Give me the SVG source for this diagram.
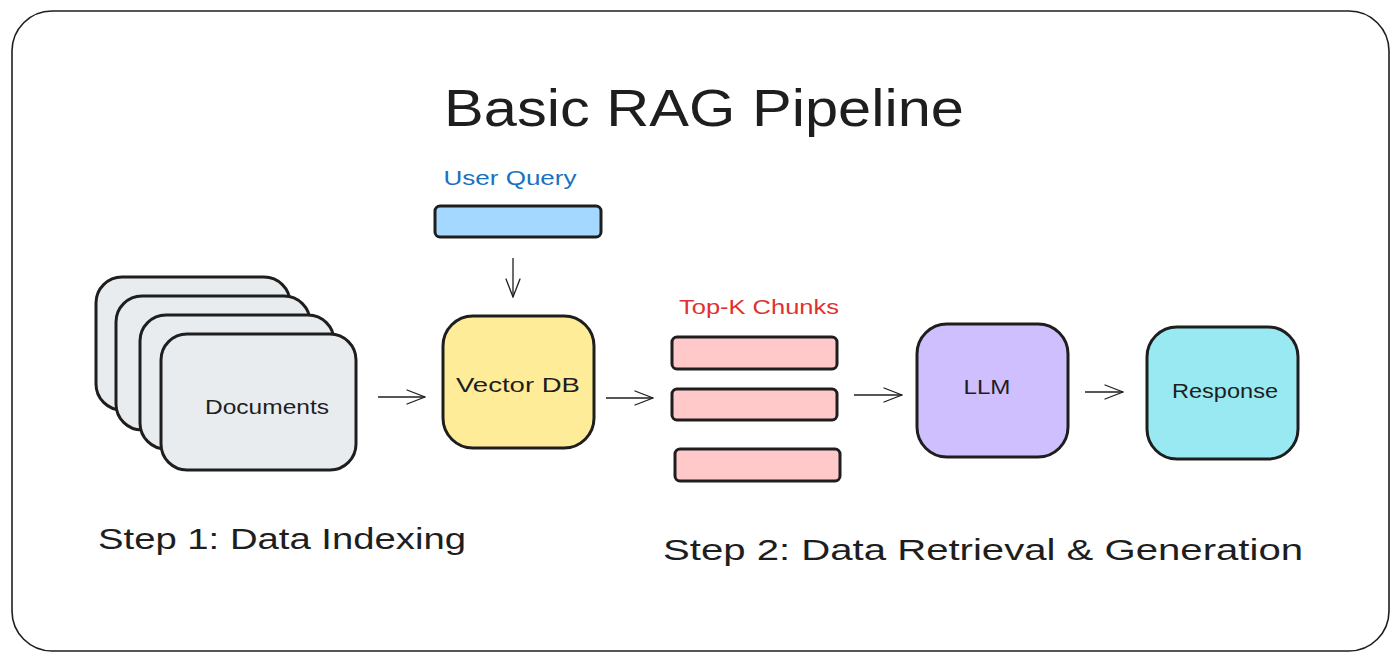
<svg xmlns="http://www.w3.org/2000/svg" width="1400" height="662" viewBox="0 0 1400 662">
  <defs>
    <marker id="arr" viewBox="0 0 20 20" refX="19" refY="10" markerWidth="20" markerHeight="20" markerUnits="userSpaceOnUse" orient="auto">
      <path d="M1,3 L19,10 L1,17" fill="none" stroke="#1e1e1e" stroke-width="1.3" stroke-linecap="round"/>
    </marker>
  </defs>
  <style>
    .t { font-family: "Liberation Sans", Arial, sans-serif; fill: #1e1e1e; }
    .box { stroke: #1e1e1e; stroke-width: 3; }
    .conn { stroke: #1e1e1e; stroke-width: 1.3; fill: none; marker-end: url(#arr); }
  </style>
  <rect x="0" y="0" width="1400" height="662" fill="#ffffff"/>
  <rect x="12" y="11" width="1377" height="640" rx="40" ry="40" fill="#ffffff" stroke="#1e1e1e" stroke-width="1.6"/>

  <g id="title">
    <text class="t" x="704" y="126" text-anchor="middle" font-size="52" textLength="520" lengthAdjust="spacingAndGlyphs">Basic RAG Pipeline</text>
  </g>

  <g id="documents">
    <rect class="box" x="96" y="277" width="194" height="133" rx="26" fill="#e9ecef"/>
    <rect class="box" x="116" y="296" width="194" height="134" rx="26" fill="#e9ecef"/>
    <rect class="box" x="140" y="315" width="194" height="134" rx="26" fill="#e9ecef"/>
    <rect class="box" x="161" y="334" width="195" height="136" rx="26" fill="#e9ecef"/>
    <text class="t" x="267" y="414" text-anchor="middle" font-size="20" textLength="124" lengthAdjust="spacingAndGlyphs">Documents</text>
  </g>

  <g id="user-query">
    <text class="t" x="510" y="185" text-anchor="middle" font-size="20" fill="#1971c2" style="fill:#1971c2" textLength="133" lengthAdjust="spacingAndGlyphs">User Query</text>
    <rect class="box" x="435" y="206" width="166" height="31" rx="5" fill="#a5d8ff"/>
  </g>

  <g id="vector-db">
    <rect class="box" x="443" y="316" width="151" height="132" rx="30" fill="#ffec99"/>
    <text class="t" x="518" y="392" text-anchor="middle" font-size="20" textLength="124" lengthAdjust="spacingAndGlyphs">Vector DB</text>
  </g>

  <g id="top-k-chunks">
    <text class="t" x="759" y="314" text-anchor="middle" font-size="20" style="fill:#e03131" textLength="160" lengthAdjust="spacingAndGlyphs">Top-K Chunks</text>
    <rect class="box" x="672" y="337" width="165" height="32" rx="5" fill="#ffc9c9"/>
    <rect class="box" x="672" y="389" width="165" height="31" rx="5" fill="#ffc9c9"/>
    <rect class="box" x="675" y="449" width="165" height="32" rx="5" fill="#ffc9c9"/>
  </g>

  <g id="llm">
    <rect class="box" x="917" y="324" width="151" height="133" rx="30" fill="#d0bfff"/>
    <text class="t" x="987" y="394" text-anchor="middle" font-size="20" textLength="47" lengthAdjust="spacingAndGlyphs">LLM</text>
  </g>

  <g id="response">
    <rect class="box" x="1147" y="327" width="151" height="132" rx="30" fill="#99e9f2"/>
    <text class="t" x="1225" y="398" text-anchor="middle" font-size="20" textLength="106" lengthAdjust="spacingAndGlyphs">Response</text>
  </g>

  <g id="step1">
    <text class="t" x="98" y="549" font-size="29" textLength="368" lengthAdjust="spacingAndGlyphs">Step 1: Data Indexing</text>
  </g>
  <g id="step2">
    <text class="t" x="663" y="560" font-size="29" textLength="640" lengthAdjust="spacingAndGlyphs">Step 2: Data Retrieval &amp; Generation</text>
  </g>

  <g id="connectors">
    <line class="conn" x1="513" y1="258" x2="513" y2="297"/>
    <line class="conn" x1="378" y1="397" x2="425" y2="397"/>
    <line class="conn" x1="606" y1="398" x2="653" y2="398"/>
    <line class="conn" x1="854" y1="395" x2="902" y2="395"/>
    <line class="conn" x1="1085" y1="392" x2="1123" y2="392"/>
  </g>
</svg>
